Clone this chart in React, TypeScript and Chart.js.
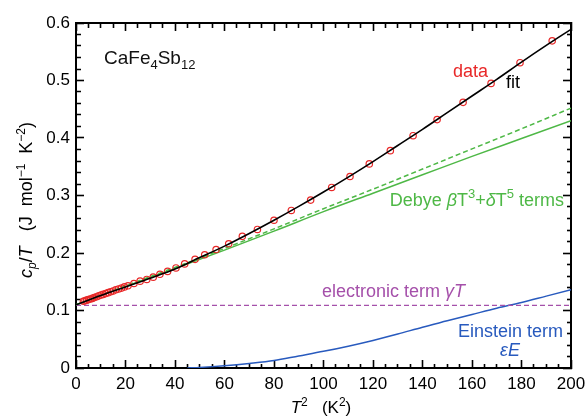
import React, { useEffect, useRef } from "react";
import { Chart, registerables } from "chart.js";

Chart.register(...registerables);

// measured data: T^2 (K^2) and cp/T (J mol^-1 K^-2)
const T2_DATA = [3, 3.6, 4.3, 5, 5.8, 6.6, 7.4, 8.3, 9.2, 10.1, 11, 12, 13, 14, 15, 16.1, 17.2, 18.4, 19.6, 21,
  23.4, 25.9, 28.6, 31.2, 33.9, 37, 40.4, 43.9, 48.1, 52, 56.6, 61.7, 67.2, 73.3, 80, 87, 94.8, 103.3, 110.7,
  118.5, 127, 136.2, 145.9, 156.4, 167.7, 179.4, 192.4];
const CP_DATA = [0.116, 0.117, 0.118, 0.119, 0.12, 0.121, 0.1225, 0.124, 0.1255, 0.127, 0.128, 0.1295, 0.131, 0.1325,
  0.134, 0.136, 0.1375, 0.139, 0.141, 0.143, 0.147, 0.151, 0.154, 0.158, 0.163, 0.168, 0.174, 0.181, 0.189, 0.197,
  0.206, 0.216, 0.229, 0.241, 0.257, 0.274, 0.292, 0.314, 0.333, 0.355, 0.378, 0.404, 0.432, 0.462, 0.495, 0.531, 0.569];

// total fit
const FIT_X = [0, 10, 20, 30, 40, 50, 60, 70, 80, 90, 100, 110, 120, 130, 140, 150, 160, 170, 180, 190, 200];
const FIT_Y = [0.11, 0.126, 0.141, 0.156, 0.172, 0.192, 0.212, 0.234, 0.257, 0.281, 0.306, 0.332, 0.359, 0.387,
  0.415, 0.444, 0.473, 0.502, 0.532, 0.561, 0.589];

// Debye terms (solid and dashed)
const DEBYE_X = [0, 20, 40, 60, 80, 100, 120, 140, 160, 180, 200];
const DEBYE_SOLID = [0.11, 0.142, 0.173, 0.205, 0.238, 0.272, 0.304, 0.336, 0.368, 0.399, 0.43];
const DEBYE_DASHED = [0.11, 0.143, 0.175, 0.208, 0.242, 0.277, 0.311, 0.346, 0.381, 0.416, 0.452];

// electronic term
const ELEC_X = [0, 200];
const ELEC_Y = [0.109, 0.109];

// Einstein term
const EIN_X = [45, 50, 60, 70, 80, 90, 100, 110, 120, 130, 140, 150, 160, 170, 180, 190, 200];
const EIN_Y = [0, 0.001, 0.004, 0.008, 0.013, 0.021, 0.029, 0.038, 0.048, 0.059, 0.071, 0.082, 0.093, 0.104, 0.114,
  0.125, 0.136];

const X_MIN = 0, X_MAX = 200, X_MAJOR = 20, X_MINOR = 5;
const Y_MIN = 0, Y_MAX = 0.6, Y_MAJOR = 0.1, Y_MINOR = 0.02;

const FONT = '"Liberation Sans", Arial, Helvetica, sans-serif';
const RED = "rgb(232,40,40)";
const GREEN = "rgb(78,184,70)";
const PURPLE = "rgb(165,80,170)";
const BLUE = "rgb(40,90,190)";

const pts = (xs: number[], ys: number[]) => xs.map((x, i) => ({ x, y: ys[i] }));

const isMajor = (v: number, step: number) => {
  const k = v / step;
  return Math.abs(k - Math.round(k)) < 1e-6;
};

// minor ticks are drawn shorter (5px) than major ticks (8px) through a dash pattern
const tickDash = (step: number, fromBorder: boolean) => (c: any) => {
  const v = c && c.tick ? c.tick.value : 0;
  if (isMajor(v, step)) return [];
  return fromBorder ? [5, 60] : [0, 3, 5, 60];
};

type Seg = { t: string; s: number; it?: boolean; dy?: number };

function rich(ctx: CanvasRenderingContext2D, x: number, y: number, segs: Seg[], align: string, color: string) {
  ctx.save();
  ctx.fillStyle = color;
  ctx.textBaseline = "alphabetic";
  ctx.textAlign = "left";
  const fontOf = (g: Seg) => `${g.it ? "italic " : ""}${g.s}px ${FONT}`;
  let w = 0;
  for (const g of segs) {
    ctx.font = fontOf(g);
    w += ctx.measureText(g.t).width;
  }
  let cx = align === "right" ? x - w : align === "center" ? x - w / 2 : x;
  for (const g of segs) {
    ctx.font = fontOf(g);
    ctx.fillText(g.t, cx, y + (g.dy || 0));
    cx += ctx.measureText(g.t).width;
  }
  ctx.restore();
}

const labelsPlugin = {
  id: "annotLabels",
  afterDraw(chart: any) {
    const ctx = chart.ctx;
    rich(ctx, 104, 64, [
      { t: "CaFe", s: 19 }, { t: "4", s: 13, dy: 5 }, { t: "Sb", s: 19 }, { t: "12", s: 13, dy: 5 },
    ], "left", "#111");
    rich(ctx, 453, 77, [{ t: "data", s: 18 }], "left", RED);
    rich(ctx, 506, 88, [{ t: "fit", s: 18 }], "left", "#000");
    rich(ctx, 564, 206, [
      { t: "Debye ", s: 18 }, { t: "β", s: 18, it: true }, { t: "T", s: 18 }, { t: "3", s: 13, dy: -8 },
      { t: "+", s: 18 }, { t: "δ", s: 18, it: true }, { t: "T", s: 18 }, { t: "5", s: 13, dy: -8 },
      { t: " terms", s: 18 },
    ], "right", GREEN);
    rich(ctx, 322, 297, [{ t: "electronic term ", s: 18 }, { t: "γT", s: 18, it: true }], "left", PURPLE);
    rich(ctx, 563, 337, [{ t: "Einstein term", s: 18 }], "right", BLUE);
    rich(ctx, 510, 356, [{ t: "εE", s: 18, it: true }], "center", BLUE);

    rich(ctx, 321, 413, [
      { t: "T", s: 17, it: true }, { t: "2", s: 12, dy: -7 }, { t: "   (K", s: 17 }, { t: "2", s: 12, dy: -7 },
      { t: ")", s: 17 },
    ], "center", "#000");
    ctx.save();
    ctx.translate(32, 200);
    ctx.rotate(-Math.PI / 2);
    rich(ctx, 0, 0, [
      { t: "c", s: 18, it: true }, { t: "p", s: 12, it: true, dy: 4 }, { t: "/", s: 18 }, { t: "T", s: 18, it: true },
      { t: "   (J  mol", s: 18 }, { t: "−1", s: 12, dy: -7 }, { t: "  K", s: 18 }, { t: "−2", s: 12, dy: -7 },
      { t: ")", s: 18 },
    ], "center", "#000");
    ctx.restore();
  },
};

const gridFor = (step: number, fromBorder: boolean) => ({
  display: true,
  drawOnChartArea: false,
  drawTicks: true,
  tickLength: -8,
  tickWidth: 1.6,
  tickColor: "#000",
  tickBorderDash: tickDash(step, fromBorder),
});

export default function App() {
  const ref = useRef<HTMLCanvasElement>(null);
  useEffect(() => {
    if (!ref.current) return;
    const chart = new Chart(ref.current, {
      type: "scatter",
      data: {
        datasets: [
          {
            label: "data",
            data: pts(T2_DATA, CP_DATA),
            showLine: false,
            pointStyle: "circle",
            pointRadius: 3.2,
            pointBorderWidth: 1.2,
            borderColor: RED,
            backgroundColor: "rgba(0,0,0,0)",
            order: 1,
          },
          {
            label: "fit",
            data: pts(FIT_X, FIT_Y),
            showLine: true,
            pointRadius: 0,
            borderColor: "#000",
            borderWidth: 1.6,
            cubicInterpolationMode: "monotone",
            order: 0,
          },
          {
            label: "Debye dashed",
            data: pts(DEBYE_X, DEBYE_DASHED),
            showLine: true,
            pointRadius: 0,
            borderColor: GREEN,
            borderWidth: 1.5,
            borderDash: [5, 3],
            cubicInterpolationMode: "monotone",
            order: 3,
          },
          {
            label: "Debye",
            data: pts(DEBYE_X, DEBYE_SOLID),
            showLine: true,
            pointRadius: 0,
            borderColor: GREEN,
            borderWidth: 1.5,
            cubicInterpolationMode: "monotone",
            order: 2,
          },
          {
            label: "electronic",
            data: pts(ELEC_X, ELEC_Y),
            showLine: true,
            pointRadius: 0,
            borderColor: PURPLE,
            borderWidth: 1.3,
            borderDash: [5, 3],
            order: 4,
          },
          {
            label: "Einstein",
            data: pts(EIN_X, EIN_Y),
            showLine: true,
            pointRadius: 0,
            borderColor: BLUE,
            borderWidth: 1.5,
            cubicInterpolationMode: "monotone",
            order: 5,
          },
        ],
      },
      options: {
        responsive: false,
        animation: false,
        layout: { padding: { left: 0, right: 17, top: 23, bottom: 0 } },
        plugins: { legend: { display: false }, tooltip: { enabled: false } },
        scales: {
          x: {
            type: "linear",
            position: "bottom",
            min: X_MIN,
            max: X_MAX,
            grid: gridFor(X_MAJOR, true),
            border: { display: true, color: "#000", width: 2 },
            ticks: {
              stepSize: X_MINOR,
              autoSkip: false,
              maxRotation: 0,
              padding: 14,
              color: "#000",
              font: { family: FONT, size: 17 },
              callback: (v: any) => (isMajor(Number(v), X_MAJOR) ? String(Math.round(Number(v))) : ""),
            },
            afterFit: (s: any) => { s.height = 48; s.paddingLeft = 0; s.paddingRight = 0; },
          },
          x2: {
            type: "linear",
            position: "top",
            min: X_MIN,
            max: X_MAX,
            grid: gridFor(X_MAJOR, false),
            border: { display: true, color: "#000", width: 2 },
            ticks: { stepSize: X_MINOR, autoSkip: false, display: false },
            afterFit: (s: any) => { s.height = 0; s.paddingLeft = 0; s.paddingRight = 0; },
          },
          y: {
            type: "linear",
            position: "left",
            min: Y_MIN,
            max: Y_MAX,
            grid: gridFor(Y_MAJOR, false),
            border: { display: true, color: "#000", width: 2 },
            ticks: {
              stepSize: Y_MINOR,
              autoSkip: false,
              padding: 14,
              color: "#000",
              font: { family: FONT, size: 17 },
              callback: (v: any) =>
                isMajor(Number(v), Y_MAJOR) ? String(Math.round(Number(v) / Y_MAJOR) / 10) : "",
            },
            afterFit: (s: any) => { s.width = 76; s.paddingTop = 0; s.paddingBottom = 0; },
          },
          y2: {
            type: "linear",
            position: "right",
            min: Y_MIN,
            max: Y_MAX,
            grid: gridFor(Y_MAJOR, true),
            border: { display: true, color: "#000", width: 2 },
            ticks: { stepSize: Y_MINOR, autoSkip: false, display: false },
            afterFit: (s: any) => { s.width = 0; s.paddingTop = 0; s.paddingBottom = 0; },
          },
        },
      },
      plugins: [labelsPlugin],
    } as any);
    return () => chart.destroy();
  }, []);
  return (
    <div style={{ position: "fixed", left: 0, top: 0, width: 588, height: 416, background: "#fff" }}>
      <canvas ref={ref} width={588} height={416} />
    </div>
  );
}
